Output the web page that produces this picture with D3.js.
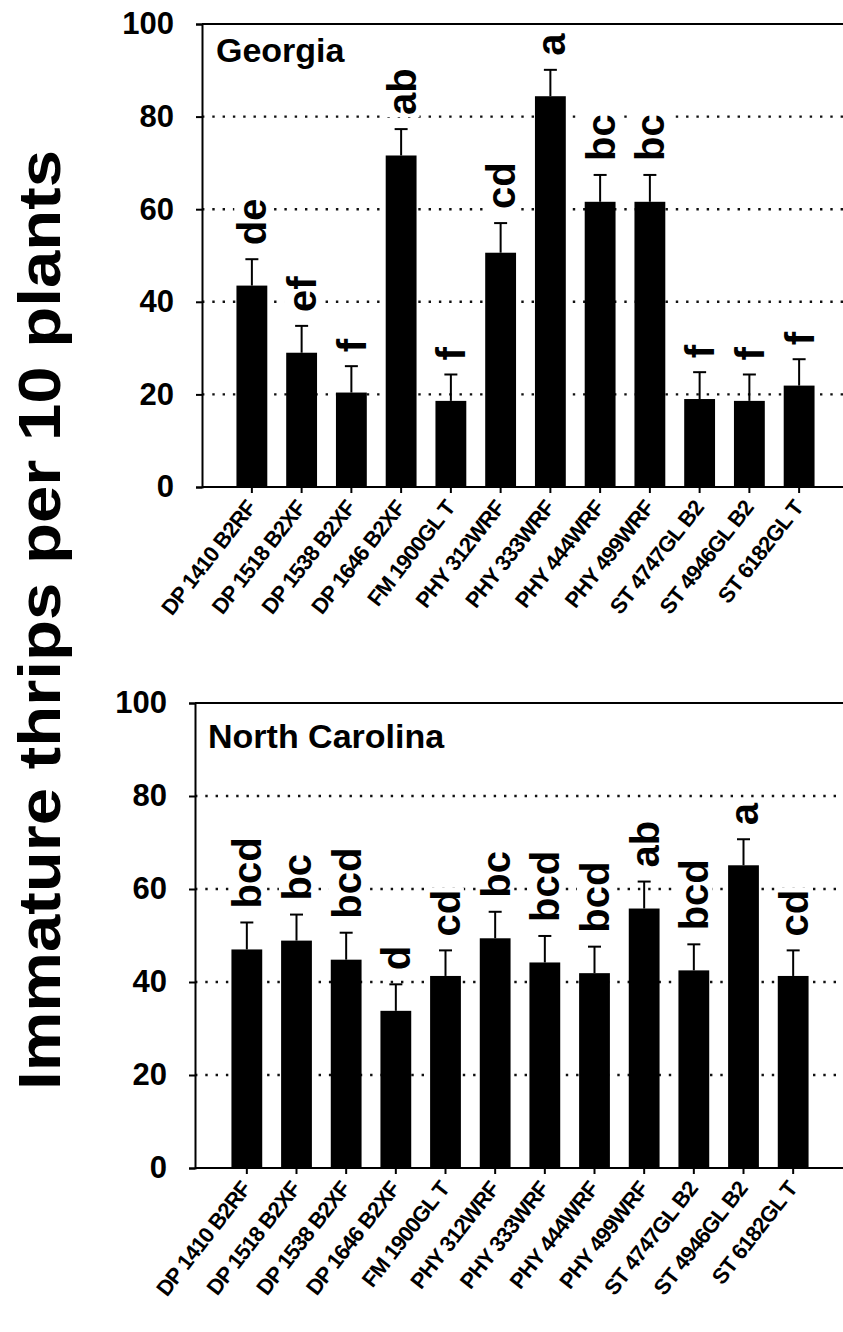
<!DOCTYPE html>
<html>
<head>
<meta charset="utf-8">
<script src="https://cdn.jsdelivr.net/npm/d3@7"></script>
<style>
  html, body { margin: 0; padding: 0; background: #fff; }
  svg { display: block; font-family: "Liberation Sans", Arial, sans-serif; }
</style>
</head>
<body>
<svg id="chart" width="843" height="1332"></svg>
<script>
// Cotton cultivars (x-axis categories)
const cultivars = ["DP 1410 B2RF", "DP 1518 B2XF", "DP 1538 B2XF", "DP 1646 B2XF",
  "FM 1900GL T", "PHY 312WRF", "PHY 333WRF", "PHY 444WRF", "PHY 499WRF",
  "ST 4747GL B2", "ST 4946GL B2", "ST 6182GL T"];

// Georgia: mean immature thrips per 10 plants, standard errors, mean separation letters
const georgiaMeans = [43.5, 29.0, 20.4, 71.6, 18.6, 50.6, 84.4, 61.6, 61.6, 19.0, 18.6, 21.9];
const georgiaSE = [5.7, 5.8, 5.7, 5.7, 5.7, 6.4, 5.7, 5.8, 5.8, 5.8, 5.7, 5.7];
const georgiaLetters = ["de", "ef", "f", "ab", "f", "cd", "a", "bc", "bc", "f", "f", "f"];

// North Carolina
const ncMeans = [47.0, 48.9, 44.8, 33.8, 41.3, 49.4, 44.2, 41.9, 55.8, 42.5, 65.1, 41.3];
const ncSE = [5.8, 5.6, 5.8, 5.7, 5.5, 5.7, 5.7, 5.7, 5.8, 5.6, 5.6, 5.5];
const ncLetters = ["bcd", "bc", "bcd", "d", "cd", "bc", "bcd", "bcd", "ab", "bcd", "a", "cd"];

// Y axis ticks
const yTicks = [0, 20, 40, 60, 80, 100];
const gridValues = [20, 40, 60, 80];

const svg = d3.select("#chart");
const W = 843;

function drawPanel(p) {
  const g = svg.append("g");
  const x = d3.scaleBand().domain(cultivars)
    .range([p.bandLeft, p.bandRight]).paddingInner(0.38).paddingOuter(0.19);
  const y = d3.scaleLinear().domain([0, 100]).range([p.yBottom, p.yTop]);

  // dotted gridlines
  g.selectAll("line.grid").data(gridValues).join("line")
    .attr("x1", p.axisX).attr("x2", W + 5)
    .attr("y1", d => y(d)).attr("y2", d => y(d))
    .attr("stroke", "#111").attr("stroke-width", 2.4)
    .attr("stroke-dasharray", "2.4 7.9");

  const data = p.means.map((m, i) => ({ c: cultivars[i], m, se: p.se[i], lab: p.letters[i] }));

  // bars
  g.selectAll("rect.bar").data(data).join("rect")
    .attr("x", d => x(d.c)).attr("width", x.bandwidth())
    .attr("y", d => y(d.m)).attr("height", d => y(0) - y(d.m))
    .attr("fill", "#000");

  // upper error whiskers with caps
  const cap = 6.5;
  data.forEach(d => {
    const cx = x(d.c) + x.bandwidth() / 2;
    g.append("line").attr("x1", cx).attr("x2", cx)
      .attr("y1", y(d.m)).attr("y2", y(d.m + d.se))
      .attr("stroke", "#000").attr("stroke-width", 2);
    g.append("line").attr("x1", cx - cap).attr("x2", cx + cap)
      .attr("y1", y(d.m + d.se)).attr("y2", y(d.m + d.se))
      .attr("stroke", "#000").attr("stroke-width", 2);
  });

  // mean separation letters, rotated
  data.forEach(d => {
    const cx = x(d.c) + x.bandwidth() / 2;
    const lg = g.append("g")
      .attr("transform", `translate(${cx},${y(d.m + d.se) - 14}) rotate(-90)`);
    const bg = lg.append("rect").attr("fill", "#fff");
    const t = lg.append("text").text(d.lab)
      .attr("x", 0).attr("y", 0)
      .attr("dy", "0.36em")
      .attr("font-size", 40).attr("font-weight", "bold").attr("fill", "#000");
    const bb = t.node().getBBox();
    bg.attr("x", bb.x - 2).attr("y", bb.y + 4).attr("width", bb.width + 4).attr("height", bb.height - 8);
  });

  // frame: top border and bottom axis line
  g.append("line").attr("x1", p.axisX).attr("x2", W + 5)
    .attr("y1", p.yTop).attr("y2", p.yTop).attr("stroke", "#000").attr("stroke-width", 2);
  g.append("line").attr("x1", p.axisX).attr("x2", W + 5)
    .attr("y1", p.yBottom).attr("y2", p.yBottom).attr("stroke", "#000").attr("stroke-width", 2);

  // y axis
  const yAxis = d3.axisLeft(y).tickValues(yTicks).tickSize(6).tickPadding(22)
    .tickFormat(d3.format("d"));
  const ya = g.append("g").attr("transform", `translate(${p.axisX},0)`).call(yAxis);
  ya.select(".domain").attr("stroke", "#000").attr("stroke-width", 2);
  ya.selectAll(".tick line").attr("stroke", "#000").attr("stroke-width", 2);
  ya.selectAll(".tick text").attr("font-size", 31).attr("font-weight", "bold")
    .attr("fill", "#000").attr("font-family", "Liberation Sans, Arial, sans-serif");

  // x axis ticks and rotated cultivar labels
  const xAxis = d3.axisBottom(x).tickSize(6).tickSizeOuter(0).tickFormat("");
  const xa = g.append("g").attr("transform", `translate(0,${p.yBottom})`).call(xAxis);
  xa.select(".domain").remove();
  xa.selectAll(".tick line").attr("stroke", "#000").attr("stroke-width", 2);
  g.selectAll("text.xlab").data(cultivars).join("text")
    .attr("class", "xlab")
    .attr("transform", d => `translate(${x(d) + x.bandwidth() / 2 + 5},${p.yBottom + 21}) rotate(-52)`)
    .attr("text-anchor", "end")
    .attr("font-size", 22).attr("font-weight", "bold").attr("letter-spacing", -0.9)
    .attr("fill", "#000")
    .text(d => d);

  // panel title
  g.append("text").attr("x", p.titleX).attr("y", p.titleY)
    .attr("font-size", 34).attr("font-weight", "bold").attr("fill", "#000")
    .text(p.title);
}

drawPanel({
  title: "Georgia", titleX: 216, titleY: 62,
  means: georgiaMeans, se: georgiaSE, letters: georgiaLetters,
  axisX: 202, yTop: 24, yBottom: 487, bandLeft: 227, bandRight: 824
});

drawPanel({
  title: "North Carolina", titleX: 208, titleY: 748,
  means: ncMeans, se: ncSE, letters: ncLetters,
  axisX: 195, yTop: 703, yBottom: 1168, bandLeft: 222, bandRight: 818
});

// shared y axis title
svg.append("text")
  .attr("transform", "translate(60,620) rotate(-90)")
  .attr("text-anchor", "middle")
  .attr("font-size", 60).attr("font-weight", "bold").attr("fill", "#000")
  .attr("textLength", 940).attr("lengthAdjust", "spacingAndGlyphs")
  .text("Immature thrips per 10 plants");
</script>
</body>
</html>
